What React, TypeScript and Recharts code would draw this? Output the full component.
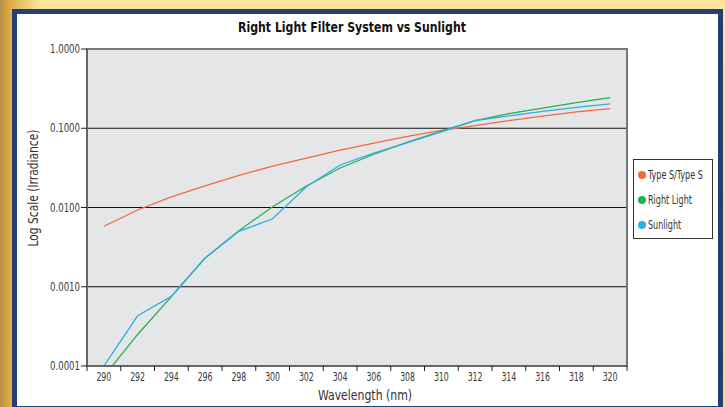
import React from 'react';
import { LineChart, Line, XAxis, YAxis, CartesianGrid, Legend, ReferenceArea } from 'recharts';

const wavelengths = [290, 292, 294, 296, 298, 300, 302, 304, 306, 308, 310, 312, 314, 316, 318, 320];
const typeS = [0.0058, 0.0093, 0.0136, 0.0187, 0.0255, 0.0332, 0.042, 0.053, 0.065, 0.079, 0.094, 0.108, 0.125, 0.142, 0.161, 0.177];
const rightLight = [0.000074, 0.00025, 0.00075, 0.0023, 0.0051, 0.0102, 0.0187, 0.0315, 0.047, 0.067, 0.092, 0.1245, 0.153, 0.179, 0.21, 0.244];
const sunlight = [0.0001, 0.00043, 0.00076, 0.0023, 0.005, 0.0072, 0.0183, 0.0344, 0.0485, 0.066, 0.09, 0.1245, 0.143, 0.163, 0.183, 0.203];
const yTicks = [0.0001, 0.001, 0.01, 0.1, 1];

const seriesNames = ['Type S/Type S', 'Right Light', 'Sunlight'];
const seriesColors = ['#f26a3a', '#22b04c', '#33abe0'];

const data = wavelengths.map((nm, i) => ({
  nm: String(nm),
  typeS: typeS[i],
  rightLight: rightLight[i],
  sunlight: sunlight[i],
}));

const FONT = '"Liberation Sans Narrow", "DejaVu Sans Condensed", "Roboto Condensed", Arial, sans-serif';

const W = 725;
const H = 407;
const M = { top: 49, right: 98, bottom: 0, left: 0 };
const YW = 87;
const XH = 41;
const BAND = (W - YW - M.right) / wavelengths.length;

const XTick = (props: any) => {
  const { x, y, payload, index } = props;
  const half = payload && typeof payload.offset === 'number' && payload.offset > 0 ? payload.offset : BAND / 2;
  const last = index === wavelengths.length - 1;
  return (
    <g>
      <line x1={x - half} y1={y} x2={x - half} y2={y + 5} stroke="#222" strokeWidth={1} />
      {last && <line x1={x + half} y1={y} x2={x + half} y2={y + 5} stroke="#222" strokeWidth={1} />}
      <text x={x} y={y + 15} textAnchor="middle" fontSize={11.5} fill="#3a3a3a" fontFamily={FONT} textLength={15} lengthAdjust="spacingAndGlyphs">
        {payload.value}
      </text>
    </g>
  );
};

const YTick = (props: any) => {
  const { x, y, payload } = props;
  return (
    <text x={x} y={y + 4} textAnchor="end" fontSize={11.5} fill="#3a3a3a" fontFamily={FONT} textLength={30} lengthAdjust="spacingAndGlyphs">
      {Number(payload.value).toFixed(4)}
    </text>
  );
};

const LegendBox = (props: any) => {
  const payload = [...(props.payload || [])].sort(
    (a: any, b: any) => seriesNames.indexOf(a.value) - seriesNames.indexOf(b.value)
  );
  return (
    <div
      style={{
        width: 80,
        height: 80,
        border: '1px solid #333',
        background: '#fff',
        boxSizing: 'border-box',
        paddingTop: 2,
        fontFamily: FONT,
        fontSize: 11.5,
        color: '#333',
        overflow: 'hidden',
      }}
    >
      {payload.map((p: any) => (
        <div key={p.value} style={{ display: 'flex', alignItems: 'center', height: 25, paddingLeft: 4, whiteSpace: 'nowrap' }}>
          <span
            style={{
              display: 'inline-block',
              flex: '0 0 auto',
              width: 8,
              height: 8,
              borderRadius: 4,
              background: p.color,
              marginRight: 2,
            }}
          />
          <span style={{ display: 'inline-block', transform: 'scaleX(0.78)', transformOrigin: 'left center' }}>{p.value}</span>
        </div>
      ))}
    </div>
  );
};

export default function App() {
  return (
    <div
      style={{
        position: 'absolute',
        left: 0,
        top: 0,
        width: W,
        height: H,
        overflow: 'hidden',
        background:
          'linear-gradient(to right, #b38d45 0px, #d9a845 8px, rgba(253,226,150,0) 40px), linear-gradient(to bottom, #fde39c 0%, #f7d98a 100%)',
      }}
    >
      <div style={{ position: 'absolute', left: 12, top: 9, width: 711, height: 410, background: '#233f74' }} />
      <div style={{ position: 'absolute', left: 17, top: 14, width: 701, height: 392, background: '#ffffff' }} />
      <div style={{ position: 'absolute', left: 0, top: 0 }}>
        <LineChart width={W} height={H} data={data} margin={M}>
          <CartesianGrid vertical={false} horizontal={true} stroke="#111" strokeWidth={1.2} fill="#e5e6e8" horizontalValues={yTicks} />
          <XAxis
            dataKey="nm"
            type="category"
            scale="band"
            height={XH}
            interval={0}
            tickLine={false}
            tickSize={0}
            tickMargin={0}
            axisLine={{ stroke: '#666', strokeWidth: 2 }}
            tick={<XTick />}
          />
          <YAxis
            scale="log"
            type="number"
            domain={[0.0001, 1]}
            ticks={yTicks}
            allowDataOverflow
            width={YW}
            interval={0}
            tick={<YTick />}
            tickLine={{ stroke: '#222' }}
            tickSize={6}
            tickMargin={1}
            axisLine={{ stroke: '#666', strokeWidth: 2 }}
          />
          <ReferenceArea y1={0.0001} y2={1} fill="none" stroke="#777" strokeWidth={2} ifOverflow="visible" />
          <Line dataKey="typeS" name={seriesNames[0]} stroke={seriesColors[0]} strokeWidth={1.3} dot={false} isAnimationActive={false} />
          <Line dataKey="rightLight" name={seriesNames[1]} stroke={seriesColors[1]} strokeWidth={1.3} dot={false} isAnimationActive={false} />
          <Line dataKey="sunlight" name={seriesNames[2]} stroke={seriesColors[2]} strokeWidth={1.3} dot={false} isAnimationActive={false} />
          <Legend
            layout="vertical"
            align="center"
            verticalAlign="middle"
            wrapperStyle={{ position: 'absolute', left: 633, top: 159, width: 80, height: 80 }}
            content={<LegendBox />}
          />
          <text x={352} y={32} textAnchor="middle" fontSize={14.5} fontWeight="bold" fill="#111" fontFamily={FONT} textLength={228} lengthAdjust="spacingAndGlyphs">
            Right Light Filter System vs Sunlight
          </text>
          <text x={365} y={400} textAnchor="middle" fontSize={14} fill="#333" fontFamily={FONT} textLength={94} lengthAdjust="spacingAndGlyphs">
            Wavelength (nm)
          </text>
          <text
            x={0}
            y={0}
            transform="translate(38,188) rotate(-90)"
            textAnchor="middle"
            fontSize={14}
            fill="#333"
            fontFamily={FONT}
            textLength={117}
            lengthAdjust="spacingAndGlyphs"
          >
            Log Scale (Irradiance)
          </text>
        </LineChart>
      </div>
    </div>
  );
}
